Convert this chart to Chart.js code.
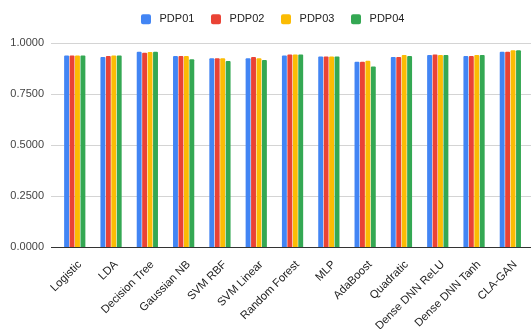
<!DOCTYPE html>
<html>
<head>
<meta charset="utf-8">
<script src="https://cdn.jsdelivr.net/npm/chart.js@4"></script>
<style>
  html, body { margin: 0; padding: 0; background: #fff; }
  #wrap { width: 531px; height: 329px; position: relative; }
</style>
</head>
<body>
<div id="wrap"><canvas id="c"></canvas></div>
<script>
const categories = ["Logistic", "LDA", "Decision Tree", "Gaussian NB", "SVM RBF", "SVM Linear",
  "Random Forest", "MLP", "AdaBoost", "Quadratic", "Dense DNN ReLU", "Dense DNN Tanh", "CLA-GAN"];
const seriesNames = ["PDP01", "PDP02", "PDP03", "PDP04"];
const pdp01 = [0.939, 0.931, 0.957, 0.936, 0.925, 0.925, 0.939, 0.934, 0.908, 0.931, 0.941, 0.936, 0.957];
const pdp02 = [0.939, 0.936, 0.952, 0.936, 0.925, 0.931, 0.944, 0.934, 0.908, 0.931, 0.944, 0.936, 0.957];
const pdp03 = [0.939, 0.939, 0.956, 0.936, 0.925, 0.925, 0.944, 0.934, 0.913, 0.941, 0.941, 0.941, 0.964];
const pdp04 = [0.939, 0.939, 0.957, 0.920, 0.912, 0.917, 0.944, 0.934, 0.885, 0.936, 0.941, 0.941, 0.964];
const yTicks = [0, 0.25, 0.5, 0.75, 1];

const colors = ["#4285F4", "#EA4335", "#FBBC04", "#34A853"];
const FONT = "Arial, 'Liberation Sans', sans-serif";

// fixed legend band height so the plot starts just under it
const legendBand = {
  id: 'legendBand',
  afterInit(chart) {
    const lg = chart.legend;
    const orig = lg.fit;
    lg.fit = function () { orig.call(this); this.height = 43; };
  },
  afterLayout(chart) {
    // centre the legend row over the plot and lift it a little
    const lg = chart.legend;
    lg.top -= 2.8;
    lg.left += 8;
    lg.right += 8;
  }
};

// horizontal gridlines that run slightly past the plot edges
const wideGrid = {
  id: 'wideGrid',
  beforeDatasetsDraw(chart) {
    const y = chart.scales.y, ctx = chart.ctx;
    ctx.save();
    ctx.lineWidth = 1;
    yTicks.forEach(v => {
      const py = Math.round(y.getPixelForValue(v)) + 0.5;
      ctx.strokeStyle = v === 0 ? '#333333' : '#d4d4d4';
      ctx.beginPath();
      ctx.moveTo(51, py);
      ctx.lineTo(531, py);
      ctx.stroke();
    });
    ctx.restore();
  }
};

const data = {
  labels: categories,
  datasets: [pdp01, pdp02, pdp03, pdp04].map((vals, i) => ({
    label: seriesNames[i],
    data: vals,
    backgroundColor: colors[i],
    borderRadius: 1,
    categoryPercentage: 0.6,
    barPercentage: 0.9
  }))
};

new Chart(document.getElementById('c'), {
  type: 'bar',
  data,
  options: {
    responsive: true,
    maintainAspectRatio: false,
    animation: false,
    layout: { padding: { left: 0, right: 1.6, top: 0, bottom: 0 } },
    plugins: {
      legend: {
        position: 'top',
        labels: {
          boxWidth: 10,
          boxHeight: 10,
          padding: 16.6,
          color: '#222',
          font: { family: FONT, size: 11 },
          useBorderRadius: true,
          borderRadius: 2,
          generateLabels(chart) {
            return chart.data.datasets.map((ds, i) => ({
              text: ' ' + ds.label,
              fillStyle: ds.backgroundColor,
              strokeStyle: ds.backgroundColor,
              lineWidth: 0,
              fontColor: '#222',
              borderRadius: 2,
              hidden: !chart.isDatasetVisible(i),
              datasetIndex: i
            }));
          }
        }
      },
      tooltip: { enabled: false }
    },
    scales: {
      x: {
        grid: { display: false, drawTicks: false },
        border: { display: false },
        ticks: {
          minRotation: 45,
          maxRotation: 45,
          autoSkip: false,
          padding: 11,
          labelOffset: 5,
          color: '#222',
          font: { family: FONT, size: 11.3 }
        },
        afterFit(s) { s.height = 82; }
      },
      y: {
        min: 0,
        max: 1,
        grid: { display: false, drawTicks: false },
        border: { display: false },
        afterBuildTicks(s) { s.ticks = yTicks.map(v => ({ value: v })); },
        ticks: {
          padding: 12.6,
          color: '#444',
          font: { family: FONT, size: 11 },
          callback: v => Number(v).toFixed(4)
        },
        afterFit(s) { s.width = 56.6; }
      }
    }
  },
  plugins: [legendBand, wideGrid]
});
</script>
</body>
</html>
